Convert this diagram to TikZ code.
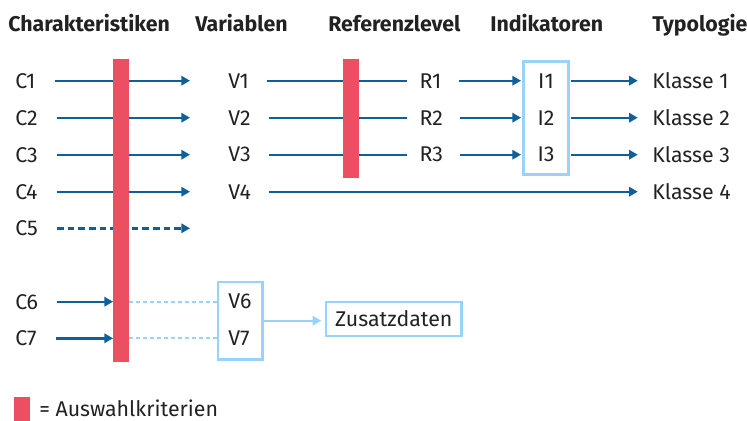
\documentclass[tikz,border=0pt]{standalone}
\usepackage{fontspec}
\setmainfont{Fira Sans}
\usetikzlibrary{arrows.meta}
\usetikzlibrary{calc}
\definecolor{auswahlred}{RGB}{236,79,97}
\definecolor{flowblue}{RGB}{15,96,152}
\definecolor{paleblue}{RGB}{152,212,250}
\definecolor{inkgray}{RGB}{34,34,34}

\begin{document}
\begin{tikzpicture}[x=0.75pt, y={(0pt,-0.75pt)},
    font=\fontsize{16}{19}\selectfont, text=inkgray,
    lbl/.style={inner sep=0pt, anchor=west},
    head/.style={inner sep=0pt, anchor=base west, font=\fontsize{16}{19}\selectfont\bfseries},
    flowline/.style={draw=flowblue, line width=1.8pt},
    flow/.style={flowline, -{Triangle[length=6.5pt,width=7pt]}},
    dashflow/.style={flow, dash pattern=on 5pt off 3pt},
    dotline/.style={draw=paleblue, line width=1.5pt, dash pattern=on 3pt off 2.25pt},
    paleflow/.style={draw=paleblue, line width=1.5pt, -{Triangle[length=6.5pt,width=7pt]}},
    frame/.style={draw=paleblue, line width=2pt, inner sep=0pt}]

						\def\ya{80.7}
						\def\yb{117.7}
						\def\yc{154.7}
						\def\yd{191.7}
						\def\ye{228.3}
						\def\yf{301.7}
						\def\yg{338.3}

						\useasboundingbox (0,0) rectangle (747,421);

						\node[head] (hC) at (8,31.7) {Charakteristiken};
						\node[head] (hV) at (195,31.7) {Variablen};
						\node[head] (hR) at (328,31.7) {Referenzlevel};
						\node[head] (hI) at (490,31.7) {Indikatoren};
						\node[head] (hT) at (652,31.7) {Typologie};

						\node[lbl] (c1) at (15,\ya) {C1};
						\node[lbl] (c2) at (15,\yb) {C2};
						\node[lbl] (c3) at (15,\yc) {C3};
						\node[lbl] (c4) at (15,\yd) {C4};
						\node[lbl] (c5) at (15,\ye) {C5};
						\node[lbl] (c6) at (15,\yf) {C6};
						\node[lbl] (c7) at (15,\yg) {C7};

						\node[lbl] (v1) at (228,\ya) {V1};
						\node[lbl] (v2) at (228,\yb) {V2};
						\node[lbl] (v3) at (228,\yc) {V3};
						\node[lbl] (v4) at (228,\yd) {V4};
						\node[lbl] (v6) at (228,\yf) {V6};
						\node[lbl] (v7) at (228,\yg) {V7};

						\node[lbl] (r1) at (419.3,\ya) {R1};
						\node[lbl] (r2) at (419.3,\yb) {R2};
						\node[lbl] (r3) at (419.3,\yc) {R3};

						\node[inner sep=0pt] (i1) at (546,\ya) {I1};
						\node[inner sep=0pt] (i2) at (546,\yb) {I2};
						\node[inner sep=0pt] (i3) at (546,\yc) {I3};

						\node[lbl] (k1) at (652,\ya) {Klasse 1};
						\node[lbl] (k2) at (652,\yb) {Klasse 2};
						\node[lbl] (k3) at (652,\yc) {Klasse 3};
						\node[lbl] (k4) at (652,\yd) {Klasse 4};

						\node[frame, minimum width=33.5pt, minimum height=85pt] (ibox) at (546,118) {};
						\node[frame, minimum width=33.5pt, minimum height=58pt] (vbox) at (240.35,320.7) {};
						\node[frame, minimum width=101.7pt, minimum height=25.5pt] (zusatz) at (393.85,319) {Zusatzdaten};

						\coordinate (e1) at (190,\ya);
						\coordinate (e2) at (190,\yb);
						\coordinate (e3) at (190,\yc);
						\coordinate (e4) at (190,\yd);
						\coordinate (e5) at (190,\ye);
						\coordinate (b6) at (113,\yf);
						\coordinate (b7) at (113,\yg);
						\coordinate (d6) at (129,\yf);
						\coordinate (d7) at (129,\yg);

						\draw[flow, shorten <=14.25pt] (c1) -- (e1);
						\draw[flow, shorten <=14.25pt] (c2) -- (e2);
						\draw[flow, shorten <=14.25pt] (c3) -- (e3);
						\draw[flow, shorten <=14.25pt] (c4) -- (e4);
						\draw[dashflow, shorten <=14.25pt] (c5) -- (e5);
						\draw[flow, shorten <=14.25pt] (c6) -- (b6);
						\draw[flow, shorten <=14.25pt] (c7) -- (b7);

						\draw[dotline] (d6) -- (d6 -| vbox.west);
						\draw[dotline] (d7) -- (d7 -| vbox.west);

						\draw[flowline, shorten <=13.5pt, shorten >=9.5pt] (v1) -- (r1);
						\draw[flowline, shorten <=13.5pt, shorten >=9.5pt] (v2) -- (r2);
						\draw[flowline, shorten <=13.5pt, shorten >=9.5pt] (v3) -- (r3);
						\draw[flow, shorten <=13.5pt, shorten >=10.7pt] (v4) -- (k4);

						\draw[flow, shorten <=12.75pt, shorten >=1pt] (r1) -- (r1 -| ibox.west);
						\draw[flow, shorten <=12.75pt, shorten >=1pt] (r2) -- (r2 -| ibox.west);
						\draw[flow, shorten <=12.75pt, shorten >=1pt] (r3) -- (r3 -| ibox.west);

						\draw[flow, shorten <=1pt, shorten >=10.7pt] (i1 -| ibox.east) -- (k1);
						\draw[flow, shorten <=1pt, shorten >=10.7pt] (i2 -| ibox.east) -- (k2);
						\draw[flow, shorten <=1pt, shorten >=10.7pt] (i3 -| ibox.east) -- (k3);

						\draw[paleflow, shorten >=2.5pt] (vbox.east) -- (vbox.east -| zusatz.west);

						\fill[auswahlred] (113,59) rectangle (129,362);
						\fill[auswahlred] (343,59) rectangle (359,178);

						\fill[auswahlred] (14,397.3) rectangle (29.7,421);
						\node[lbl] (legende) at (39,408.5) {= Auswahlkriterien};
					\end{tikzpicture}
\end{document}
